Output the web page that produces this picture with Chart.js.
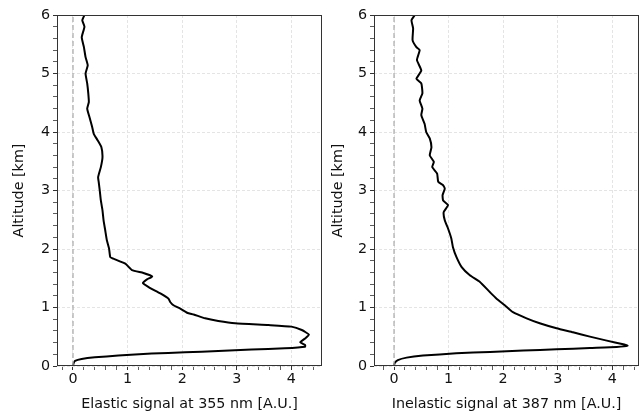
<!DOCTYPE html>
<html lang="en">
<head>
    <meta charset="UTF-8">
    <title>Lidar signals</title>
    <script src="https://cdn.jsdelivr.net/npm/chart.js"></script>
    <style>
        body {
            margin: 0;
            background: white;
        }
        .wrap {
            position: relative;
            width: 641px;
            height: 415px;
        }
        canvas {
            position: absolute;
            top: 0;
        }
    </style>
</head>
<body>
    <div class="wrap">
        <canvas id="elasticChart" width="330" height="415" style="left:0"></canvas>
        <canvas id="inelasticChart" width="321" height="415" style="left:320px"></canvas>
    </div>

    <script>
        // Elastic channel (355 nm), bottom to top
        const elasticAltitude = [0, 0.046, 0.086, 0.12, 0.149, 0.178, 0.212, 0.234, 0.256, 0.28, 0.303, 0.33, 0.36,
            0.405, 0.47, 0.535, 0.615, 0.673, 0.7, 0.73, 0.77, 0.815, 0.88, 0.91, 0.98, 1.038, 1.094, 1.15, 1.24,
            1.35, 1.42, 1.48, 1.53, 1.59, 1.64, 1.75, 1.835, 1.86, 2.01, 2.15, 2.32, 2.49, 2.66, 2.83, 3.0, 3.15,
            3.23, 3.4, 3.57, 3.74, 3.86, 3.97, 4.09, 4.26, 4.4, 4.51, 4.66, 4.83, 5.0, 5.14, 5.28, 5.45, 5.62, 5.8,
            5.91, 6.0];
        const elasticSignal = [0, 0.01, 0.037, 0.158, 0.4, 0.83, 1.44, 2.05, 2.66, 3.27, 3.88, 4.25, 4.25,
            4.16, 4.25, 4.32, 4.19, 4.0, 3.58, 2.97, 2.66, 2.42, 2.21, 2.09, 1.965, 1.84, 1.78, 1.75, 1.6,
            1.385, 1.28, 1.355, 1.45, 1.29, 1.08, 0.958, 0.74, 0.683, 0.66, 0.62, 0.59, 0.56, 0.54, 0.51, 0.49, 0.47,
            0.46, 0.51, 0.54, 0.52, 0.45, 0.38, 0.35, 0.3, 0.26, 0.29, 0.28, 0.26, 0.23, 0.27, 0.23, 0.2, 0.16, 0.21,
            0.17, 0.21];

        // Inelastic channel (387 nm)
        const inelasticAltitude = [0, 0.046, 0.1, 0.143, 0.178, 0.217, 0.24, 0.263, 0.285, 0.308, 0.325, 0.348,
            0.371, 0.434, 0.502, 0.576, 0.644, 0.73, 0.815, 0.92, 1.04, 1.15, 1.26, 1.44, 1.55, 1.69, 1.86, 2.03,
            2.18, 2.35, 2.49, 2.63, 2.75, 2.83, 2.92, 3.03, 3.09, 3.15, 3.29, 3.4, 3.49, 3.6, 3.74, 3.89, 4.0, 4.14,
            4.29, 4.4, 4.54, 4.66, 4.83, 4.91, 5.05, 5.23, 5.4, 5.45, 5.57, 5.77, 5.91, 6.0];
        const inelasticSignal = [0, 0.01, 0.07, 0.23, 0.53, 1.14, 1.76, 2.37, 2.98, 3.59, 4.08, 4.28,
            4.2, 3.9, 3.59, 3.28, 2.98, 2.67, 2.43, 2.18, 2.03, 1.88, 1.76, 1.57, 1.39, 1.24, 1.145, 1.08,
            1.05, 0.99, 0.93, 0.91, 0.99, 0.9, 0.89, 0.93, 0.9, 0.81, 0.79, 0.7, 0.73, 0.655, 0.686, 0.655, 0.59, 0.56,
            0.5, 0.52, 0.47, 0.52, 0.5, 0.41, 0.5, 0.42, 0.47, 0.41, 0.34, 0.35, 0.32, 0.38];

        const xTickValues = [0, 1, 2, 3, 4];
        const yTickValues = [0, 1, 2, 3, 4, 5, 6];

        const font = { family: 'DejaVu Sans', size: 14.3 };

        // draws the box round the plot area, like matplotlib spines
        const framePlugin = {
            id: 'frame',
            afterDraw(chart) {
                const { ctx, chartArea: a } = chart;
                ctx.save();
                ctx.strokeStyle = '#333';
                ctx.lineWidth = 1;
                ctx.strokeRect(Math.round(a.left) + 0.5, Math.round(a.top) + 0.5,
                    Math.round(a.right - a.left) - 1, Math.round(a.bottom - a.top) - 1);
                ctx.restore();
            }
        };

        function isMajor(value, list) {
            return list.some(t => Math.abs(t - value) < 1e-6);
        }

        function makeChart(id, signal, altitude, xMin, xMax, xTitle, yWidth, rightPad, titlePad) {
            const points = signal.map((v, i) => ({ x: v, y: altitude[i] }));
            return new Chart(document.getElementById(id), {
                type: 'scatter',
                data: {
                    datasets: [
                        {
                            data: [{ x: 0, y: 0 }, { x: 0, y: 6 }],
                            showLine: true,
                            borderColor: '#b0b0b0',
                            borderWidth: 1.3,
                            borderDash: [5, 3],
                            pointRadius: 0
                        },
                        {
                            data: points,
                            showLine: true,
                            borderColor: '#000',
                            borderWidth: 2,
                            pointRadius: 0,
                            tension: 0.15
                        }
                    ]
                },
                options: {
                    responsive: false,
                    animation: false,
                    layout: { padding: { top: 15, right: rightPad, left: 0, bottom: 0 } },
                    plugins: { legend: { display: false }, tooltip: { enabled: false } },
                    scales: {
                        x: {
                            type: 'linear',
                            min: xMin,
                            max: xMax,
                            afterFit(s) { s.height = 49; },
                            border: { display: false, dash: [3, 2] },
                            grid: {
                                color: c => isMajor(c.tick.value, xTickValues) ? '#e4e4e4' : 'rgba(0,0,0,0)',
                                tickColor: '#333',
                                tickLength: 4,
                                tickWidth: c => isMajor(c.tick.value, xTickValues) ? 1 : 0.8
                            },
                            ticks: {
                                stepSize: 0.2,
                                includeBounds: false,
                                autoSkip: false,
                                maxRotation: 0,
                                padding: 1,
                                color: '#111',
                                font: font,
                                callback: v => isMajor(v, xTickValues) ? String(Math.round(v)) : ''
                            },
                            title: {
                                display: true,
                                text: xTitle,
                                color: '#111',
                                font: font,
                                padding: { top: 0, bottom: 2 }
                            }
                        },
                        y: {
                            type: 'linear',
                            min: 0,
                            max: 6,
                            afterFit(s) { s.width = yWidth; },
                            border: { display: false, dash: [3, 2] },
                            grid: {
                                color: c => isMajor(c.tick.value, yTickValues) ? '#e4e4e4' : 'rgba(0,0,0,0)',
                                tickColor: '#333',
                                tickLength: 4,
                                tickWidth: c => isMajor(c.tick.value, yTickValues) ? 1 : 0.8
                            },
                            ticks: {
                                stepSize: 0.2,
                                includeBounds: false,
                                autoSkip: false,
                                padding: 3,
                                color: '#111',
                                font: font,
                                callback: v => isMajor(v, yTickValues) ? String(Math.round(v)) : ''
                            },
                            title: {
                                display: true,
                                text: 'Altitude [km]',
                                color: '#111',
                                font: font,
                                padding: { top: titlePad, bottom: 0 }
                            }
                        }
                    }
                },
                plugins: [framePlugin]
            });
        }

        makeChart('elasticChart', elasticSignal, elasticAltitude, -0.293, 4.56,
            'Elastic signal at 355 nm [A.U.]', 57, 8, 11);
        makeChart('inelasticChart', inelasticSignal, inelasticAltitude, -0.367, 4.49,
            'Inelastic signal at 387 nm [A.U.]', 54, 2, 10);
    </script>
</body>
</html>
